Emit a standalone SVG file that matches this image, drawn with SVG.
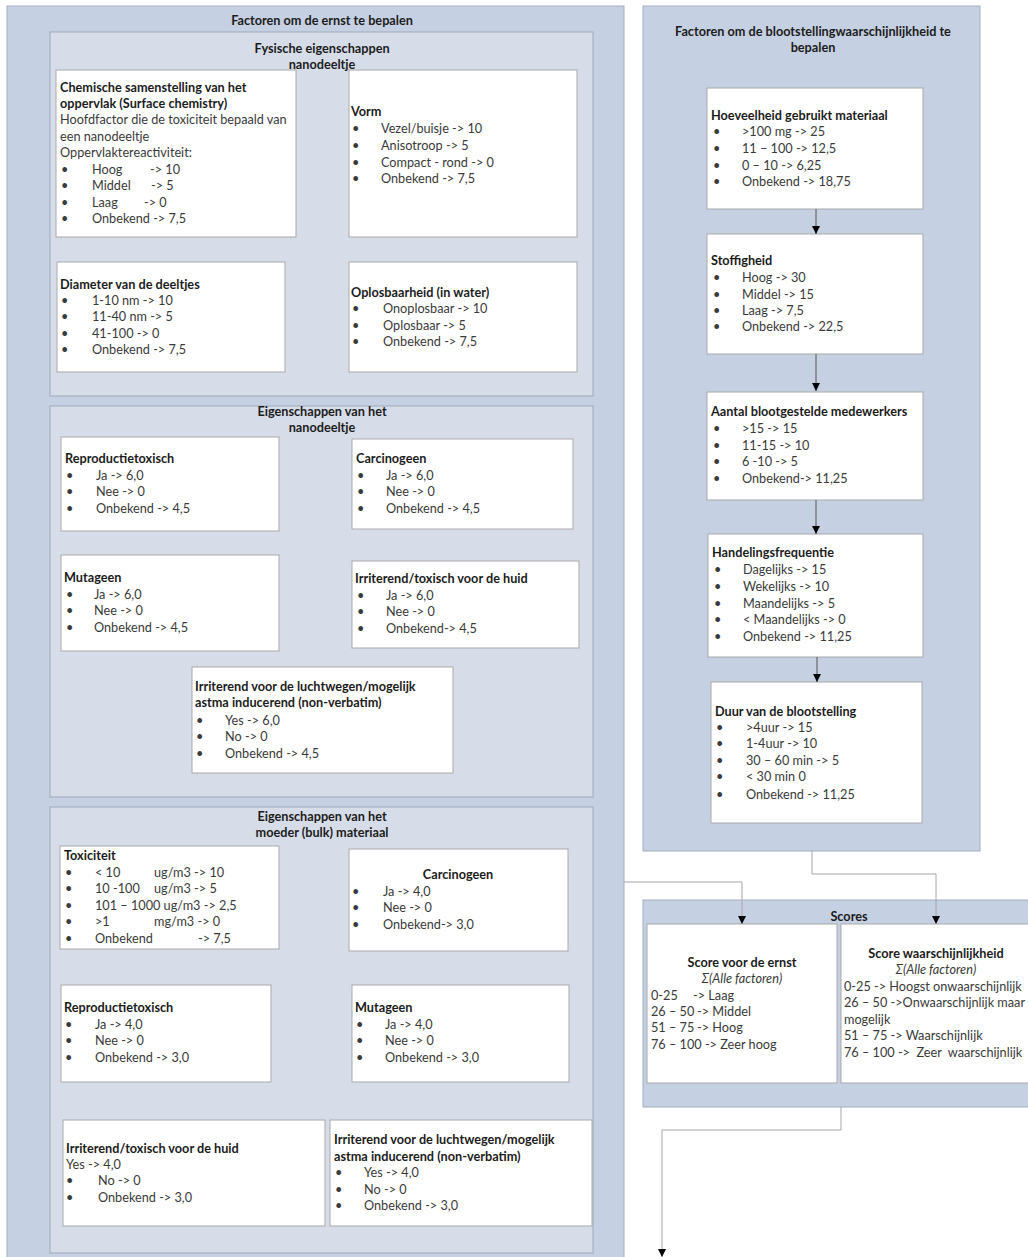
<svg xmlns="http://www.w3.org/2000/svg" width="1028" height="1257" viewBox="0 0 1028 1257">
<defs>
<style>
.outer{fill:#c5d0e2;stroke:#a3aec1;stroke-width:1}
.inner{fill:#d6dde9;stroke:#9ea9bb;stroke-width:1}
.box{fill:#ffffff;stroke:#a9a9a9;stroke-width:1}
text{font-family:Lato,"Liberation Sans",sans-serif;font-size:12.7px}
.h{font-weight:bold;fill:#1c1c1c}
.pt{font-weight:bold;fill:#1c1c1c;text-anchor:middle}
.t{fill:#3a3a3a}
.i{font-style:italic;fill:#3a3a3a;text-anchor:middle}
.pre{white-space:pre}
.cn{fill:none;stroke:#a6a6a6;stroke-width:1}
.ci{fill:none;stroke:#555555;stroke-width:1}
</style>
<marker id="ah" viewBox="0 0 10 10" refX="10" refY="5" markerWidth="8" markerHeight="8" markerUnits="userSpaceOnUse" orient="auto"><path d="M0,0 L10,5 L0,10 z" fill="#000"/></marker>
</defs>

<g id="panel-ernst">
<rect class="outer" x="7" y="6" width="617" height="1260"/>
<text class="pt" x="322" y="25">Factoren om de ernst te bepalen</text>
</g>

<g id="panel-fysisch">
<rect class="inner" x="50" y="32" width="543" height="364"/>
<text class="pt" x="322" y="53">Fysische eigenschappen</text>
<text class="pt" x="322" y="69">nanodeeltje</text>
</g>

<g id="node-chemisch">
<rect class="box" x="56" y="70" width="240" height="167"/>
<text class="h" x="60" y="92">Chemische samenstelling van het</text>
<text class="h" x="60" y="108">oppervlak (Surface chemistry)</text>
<text class="t" x="60" y="124">Hoofdfactor die de toxiciteit bepaald van</text>
<text class="t" x="60" y="141">een nanodeeltje</text>
<text class="t" x="60" y="157">Oppervlaktereactiviteit:</text>
<text class="t" y="174"><tspan x="61">•</tspan><tspan x="92">Hoog</tspan><tspan x="150">-&gt; 10</tspan></text>
<text class="t" y="190"><tspan x="61">•</tspan><tspan x="92">Middel</tspan><tspan x="151">-&gt; 5</tspan></text>
<text class="t" y="207"><tspan x="61">•</tspan><tspan x="92">Laag</tspan><tspan x="144">-&gt; 0</tspan></text>
<text class="t" y="223"><tspan x="61">•</tspan><tspan x="92">Onbekend -&gt; 7,5</tspan></text>
</g>

<g id="node-vorm">
<rect class="box" x="349" y="70" width="228" height="167"/>
<text class="h" x="351" y="116">Vorm</text>
<text class="t" y="133"><tspan x="352">•</tspan><tspan x="381">Vezel/buisje -&gt; 10</tspan></text>
<text class="t" y="150"><tspan x="352">•</tspan><tspan x="381">Anisotroop -&gt; 5</tspan></text>
<text class="t" y="167"><tspan x="352">•</tspan><tspan x="381">Compact - rond -&gt; 0</tspan></text>
<text class="t" y="183"><tspan x="352">•</tspan><tspan x="381">Onbekend -&gt; 7,5</tspan></text>
</g>

<g id="node-diameter">
<rect class="box" x="57" y="262" width="228" height="110"/>
<text class="h" x="60" y="289">Diameter van de deeltjes</text>
<text class="t" y="305"><tspan x="61">•</tspan><tspan x="92">1-10 nm -&gt; 10</tspan></text>
<text class="t" y="321"><tspan x="61">•</tspan><tspan x="92">11-40 nm -&gt; 5</tspan></text>
<text class="t" y="338"><tspan x="61">•</tspan><tspan x="92">41-100 -&gt; 0</tspan></text>
<text class="t" y="354"><tspan x="61">•</tspan><tspan x="92">Onbekend -&gt; 7,5</tspan></text>
</g>

<g id="node-oplosbaarheid">
<rect class="box" x="349" y="262" width="228" height="110"/>
<text class="h" x="351" y="297">Oplosbaarheid (in water)</text>
<text class="t" y="313"><tspan x="352">•</tspan><tspan x="383">Onoplosbaar -&gt; 10</tspan></text>
<text class="t" y="330"><tspan x="352">•</tspan><tspan x="383">Oplosbaar -&gt; 5</tspan></text>
<text class="t" y="346"><tspan x="352">•</tspan><tspan x="383">Onbekend -&gt; 7,5</tspan></text>
</g>

<g id="panel-nano">
<rect class="inner" x="50" y="406" width="543" height="391"/>
<text class="pt" x="322" y="416">Eigenschappen van het</text>
<text class="pt" x="322" y="432">nanodeeltje</text>
</g>

<g id="node-nano-repro">
<rect class="box" x="61" y="437" width="218" height="94"/>
<text class="h" x="65" y="463">Reproductietoxisch</text>
<text class="t" y="480"><tspan x="66">•</tspan><tspan x="96">Ja -&gt; 6,0</tspan></text>
<text class="t" y="496"><tspan x="66">•</tspan><tspan x="96">Nee -&gt; 0</tspan></text>
<text class="t" y="513"><tspan x="66">•</tspan><tspan x="96">Onbekend -&gt; 4,5</tspan></text>
</g>

<g id="node-nano-carcino">
<rect class="box" x="352" y="439" width="221" height="90"/>
<text class="h" x="356" y="463">Carcinogeen</text>
<text class="t" y="480"><tspan x="357">•</tspan><tspan x="386">Ja -&gt; 6,0</tspan></text>
<text class="t" y="496"><tspan x="357">•</tspan><tspan x="386">Nee -&gt; 0</tspan></text>
<text class="t" y="513"><tspan x="357">•</tspan><tspan x="386">Onbekend -&gt; 4,5</tspan></text>
</g>

<g id="node-nano-mutageen">
<rect class="box" x="61" y="555" width="218" height="96"/>
<text class="h" x="64" y="582">Mutageen</text>
<text class="t" y="599"><tspan x="66">•</tspan><tspan x="94">Ja -&gt; 6,0</tspan></text>
<text class="t" y="615"><tspan x="66">•</tspan><tspan x="94">Nee -&gt; 0</tspan></text>
<text class="t" y="632"><tspan x="66">•</tspan><tspan x="94">Onbekend -&gt; 4,5</tspan></text>
</g>

<g id="node-nano-huid">
<rect class="box" x="352" y="561" width="227" height="87"/>
<text class="h" x="355" y="583">Irriterend/toxisch voor de huid</text>
<text class="t" y="600"><tspan x="357">•</tspan><tspan x="386">Ja -&gt; 6,0</tspan></text>
<text class="t" y="616"><tspan x="357">•</tspan><tspan x="386">Nee -&gt; 0</tspan></text>
<text class="t" y="633"><tspan x="357">•</tspan><tspan x="386">Onbekend-&gt; 4,5</tspan></text>
</g>

<g id="node-nano-lucht">
<rect class="box" x="192" y="667" width="261" height="106"/>
<text class="h" x="195" y="691">Irriterend voor de luchtwegen/mogelijk</text>
<text class="h" x="195" y="707">astma inducerend (non-verbatim)</text>
<text class="t" y="725"><tspan x="196">•</tspan><tspan x="225">Yes -&gt; 6,0</tspan></text>
<text class="t" y="741"><tspan x="196">•</tspan><tspan x="225">No -&gt; 0</tspan></text>
<text class="t" y="758"><tspan x="196">•</tspan><tspan x="225">Onbekend -&gt; 4,5</tspan></text>
</g>

<g id="panel-bulk">
<rect class="inner" x="50" y="807" width="543" height="446"/>
<text class="pt" x="322" y="821">Eigenschappen van het</text>
<text class="pt" x="322" y="837">moeder (bulk) materiaal</text>
</g>

<g id="node-bulk-tox">
<rect class="box" x="60" y="846" width="219" height="103"/>
<text class="h" x="64" y="860">Toxiciteit</text>
<text class="t" y="877"><tspan x="65">•</tspan><tspan x="95">&lt; 10</tspan><tspan x="154">ug/m3 -&gt; 10</tspan></text>
<text class="t" y="893"><tspan x="65">•</tspan><tspan x="95">10 -100</tspan><tspan x="154">ug/m3 -&gt; 5</tspan></text>
<text class="t" y="910"><tspan x="65">•</tspan><tspan x="95">101 – 1000 ug/m3 -&gt; 2,5</tspan></text>
<text class="t" y="926"><tspan x="65">•</tspan><tspan x="95">&gt;1</tspan><tspan x="154">mg/m3 -&gt; 0</tspan></text>
<text class="t" y="943"><tspan x="65">•</tspan><tspan x="95">Onbekend</tspan><tspan x="198">-&gt; 7,5</tspan></text>
</g>

<g id="node-bulk-carcino">
<rect class="box" x="349" y="849" width="219" height="102"/>
<text class="pt" x="458" y="879">Carcinogeen</text>
<text class="t" y="896"><tspan x="352">•</tspan><tspan x="383">Ja -&gt; 4,0</tspan></text>
<text class="t" y="912"><tspan x="352">•</tspan><tspan x="383">Nee -&gt; 0</tspan></text>
<text class="t" y="929"><tspan x="352">•</tspan><tspan x="383">Onbekend-&gt; 3,0</tspan></text>
</g>

<g id="node-bulk-repro">
<rect class="box" x="61" y="985" width="210" height="97"/>
<text class="h" x="64" y="1012">Reproductietoxisch</text>
<text class="t" y="1029"><tspan x="65">•</tspan><tspan x="95">Ja -&gt; 4,0</tspan></text>
<text class="t" y="1045"><tspan x="65">•</tspan><tspan x="95">Nee -&gt; 0</tspan></text>
<text class="t" y="1062"><tspan x="65">•</tspan><tspan x="95">Onbekend -&gt; 3,0</tspan></text>
</g>

<g id="node-bulk-mutageen">
<rect class="box" x="352" y="985" width="217" height="97"/>
<text class="h" x="355" y="1012">Mutageen</text>
<text class="t" y="1029"><tspan x="356">•</tspan><tspan x="385">Ja -&gt; 4,0</tspan></text>
<text class="t" y="1045"><tspan x="356">•</tspan><tspan x="385">Nee -&gt; 0</tspan></text>
<text class="t" y="1062"><tspan x="356">•</tspan><tspan x="385">Onbekend -&gt; 3,0</tspan></text>
</g>

<g id="node-bulk-huid">
<rect class="box" x="63" y="1120" width="262" height="106"/>
<text class="h" x="66" y="1153">Irriterend/toxisch voor de huid</text>
<text class="t" x="66" y="1169">Yes -&gt; 4,0</text>
<text class="t" y="1185"><tspan x="66">•</tspan><tspan x="98">No -&gt; 0</tspan></text>
<text class="t" y="1202"><tspan x="66">•</tspan><tspan x="98">Onbekend -&gt; 3,0</tspan></text>
</g>

<g id="node-bulk-lucht">
<rect class="box" x="330" y="1120" width="262" height="106"/>
<text class="h" x="334" y="1144">Irriterend voor de luchtwegen/mogelijk</text>
<text class="h" x="334" y="1161">astma inducerend (non-verbatim)</text>
<text class="t" y="1177"><tspan x="335">•</tspan><tspan x="364">Yes -&gt; 4,0</tspan></text>
<text class="t" y="1194"><tspan x="335">•</tspan><tspan x="364">No -&gt; 0</tspan></text>
<text class="t" y="1210"><tspan x="335">•</tspan><tspan x="364">Onbekend -&gt; 3,0</tspan></text>
</g>

<g id="panel-bloot">
<rect class="outer" x="643" y="6" width="337" height="845"/>
<text class="pt" x="813" y="36">Factoren om de blootstellingwaarschijnlijkheid te</text>
<text class="pt" x="813" y="52">bepalen</text>
</g>

<g id="node-hoeveelheid">
<rect class="box" x="707" y="88" width="216" height="121"/>
<text class="h" x="711" y="120">Hoeveelheid gebruikt materiaal</text>
<text class="t" y="136"><tspan x="713">•</tspan><tspan x="742">&gt;100 mg -&gt; 25</tspan></text>
<text class="t" y="153"><tspan x="713">•</tspan><tspan x="742">11 – 100 -&gt; 12,5</tspan></text>
<text class="t" y="170"><tspan x="713">•</tspan><tspan x="742">0 – 10 -&gt; 6,25</tspan></text>
<text class="t" y="186"><tspan x="713">•</tspan><tspan x="742">Onbekend -&gt; 18,75</tspan></text>
</g>

<g id="node-stoffigheid">
<rect class="box" x="707" y="234" width="216" height="120"/>
<text class="h" x="711" y="265">Stoffigheid</text>
<text class="t" y="282"><tspan x="713">•</tspan><tspan x="742">Hoog -&gt; 30</tspan></text>
<text class="t" y="299"><tspan x="713">•</tspan><tspan x="742">Middel -&gt; 15</tspan></text>
<text class="t" y="315"><tspan x="713">•</tspan><tspan x="742">Laag -&gt; 7,5</tspan></text>
<text class="t" y="331"><tspan x="713">•</tspan><tspan x="742">Onbekend -&gt; 22,5</tspan></text>
</g>

<g id="node-aantal">
<rect class="box" x="707" y="392" width="216" height="108"/>
<text class="h" x="711" y="416">Aantal blootgestelde medewerkers</text>
<text class="t" y="433"><tspan x="713">•</tspan><tspan x="742">&gt;15 -&gt; 15</tspan></text>
<text class="t" y="450"><tspan x="713">•</tspan><tspan x="742">11-15 -&gt; 10</tspan></text>
<text class="t" y="466"><tspan x="713">•</tspan><tspan x="742">6 -10 -&gt; 5</tspan></text>
<text class="t" y="483"><tspan x="713">•</tspan><tspan x="742">Onbekend-&gt; 11,25</tspan></text>
</g>

<g id="node-frequentie">
<rect class="box" x="708" y="534" width="215" height="123"/>
<text class="h" x="712" y="557">Handelingsfrequentie</text>
<text class="t" y="574"><tspan x="714">•</tspan><tspan x="743">Dagelijks -&gt; 15</tspan></text>
<text class="t" y="591"><tspan x="714">•</tspan><tspan x="743">Wekelijks -&gt; 10</tspan></text>
<text class="t" y="608"><tspan x="714">•</tspan><tspan x="743">Maandelijks -&gt; 5</tspan></text>
<text class="t" y="624"><tspan x="714">•</tspan><tspan x="743">&lt; Maandelijks -&gt; 0</tspan></text>
<text class="t" y="641"><tspan x="714">•</tspan><tspan x="743">Onbekend -&gt; 11,25</tspan></text>
</g>

<g id="node-duur">
<rect class="box" x="711" y="682" width="211" height="141"/>
<text class="h" x="715" y="716">Duur van de blootstelling</text>
<text class="t" y="732"><tspan x="716">•</tspan><tspan x="746">&gt;4uur -&gt; 15</tspan></text>
<text class="t" y="748"><tspan x="716">•</tspan><tspan x="746">1-4uur -&gt; 10</tspan></text>
<text class="t" y="765"><tspan x="716">•</tspan><tspan x="746">30 – 60 min -&gt; 5</tspan></text>
<text class="t" y="781"><tspan x="716">•</tspan><tspan x="746">&lt; 30 min 0</tspan></text>
<text class="t" y="799"><tspan x="716">•</tspan><tspan x="746">Onbekend -&gt; 11,25</tspan></text>
</g>

<g id="panel-scores">
<rect class="outer" x="643" y="900" width="400" height="207"/>
<text class="pt" x="849" y="921">Scores</text>
</g>

<g id="node-score-ernst">
<rect class="box" x="647" y="924" width="190" height="159"/>
<text class="pt" x="742" y="967">Score voor de ernst</text>
<text class="i" x="742" y="983">Σ(Alle factoren)</text>
<text class="t" y="1000"><tspan x="651">0-25</tspan><tspan x="693">-&gt; Laag</tspan></text>
<text class="t" y="1016"><tspan x="651">26 – 50</tspan><tspan x="697">-&gt; Middel</tspan></text>
<text class="t" y="1032"><tspan x="651">51 – 75</tspan><tspan x="697">-&gt; Hoog</tspan></text>
<text class="t" x="651" y="1049">76 – 100 -&gt; Zeer hoog</text>
</g>

<g id="node-score-waarschijnlijkheid">
<rect class="box" x="841" y="924" width="200" height="159"/>
<text class="pt" x="936" y="958">Score waarschijnlijkheid</text>
<text class="i" x="936" y="974">Σ(Alle factoren)</text>
<text class="t" x="844" y="991">0-25 -&gt; Hoogst onwaarschijnlijk</text>
<text class="t" x="844" y="1007">26 – 50 -&gt;Onwaarschijnlijk maar</text>
<text class="t" x="844" y="1024">mogelijk</text>
<text class="t" x="844" y="1040">51 – 75 -&gt; Waarschijnlijk</text>
<text class="t pre" x="844" y="1057">76 – 100 -&gt;  Zeer  waarschijnlijk</text>
</g>

<g id="connectors">
<line class="ci" x1="816" y1="209" x2="816" y2="234" marker-end="url(#ah)"/>
<line class="ci" x1="816" y1="354" x2="816" y2="391" marker-end="url(#ah)"/>
<line class="ci" x1="816" y1="500" x2="816" y2="534" marker-end="url(#ah)"/>
<line class="ci" x1="817" y1="657" x2="817" y2="682" marker-end="url(#ah)"/>
<path class="cn" d="M624,882 H742 V924" marker-end="url(#ah)"/>
<path class="cn" d="M812,851 V874 H936 V924" marker-end="url(#ah)"/>
<path class="cn" d="M841,1107 V1130 H662 V1257" marker-end="url(#ah)"/>
</g>
</svg>
